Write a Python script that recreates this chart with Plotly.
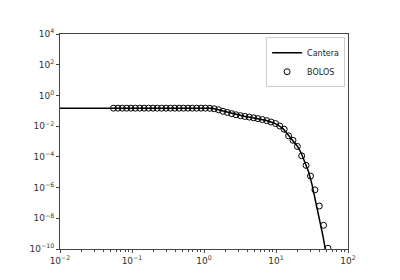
import plotly.graph_objects as go

# Cantera curve
cantera_x = [0.01, 1.0, 1.259, 1.445, 1.660, 1.950, 2.291, 2.692, 3.162, 3.715, 4.365,
             5.129, 6.026, 7.079, 8.318, 9.772, 11.48, 12.59, 14.13, 15.85, 17.78,
             19.95, 22.39, 25.12, 28.18, 31.62, 35.48, 39.81, 44.67, 50.12, 56.23]
cantera_y = [0.148, 0.148, 0.145, 0.132, 0.112, 0.0871, 0.0692, 0.0575, 0.0479, 0.0427,
             0.0380, 0.0339, 0.0295, 0.0245, 0.0195, 0.0145, 0.00933, 0.00661, 0.00347,
             0.00178, 9.3e-4, 4.7e-4, 1.78e-4, 5.0e-5, 1.17e-5, 1.58e-6, 1.41e-7,
             1.0e-8, 7.9e-10, 4.0e-11, 1.6e-12]

# BOLOS points
bolos_x = [0.0553, 0.0637, 0.0733, 0.0842, 0.0968, 0.1114, 0.1282, 0.1476, 0.1695, 0.195,
           0.2244, 0.2582, 0.2972, 0.3412, 0.3926, 0.4519, 0.520, 0.598, 0.687, 0.791,
           0.910, 1.047, 1.205, 1.384, 1.592, 1.832, 2.109, 2.427, 2.786, 3.206,
           3.690, 4.246, 4.887, 5.61, 6.457, 7.43, 8.55, 9.84, 11.30, 13.00,
           14.96, 17.22, 19.82, 22.75, 26.18, 30.13, 34.67, 39.90, 45.81, 52.7]
bolos_y = [0.148, 0.148, 0.148, 0.148, 0.148, 0.148, 0.148, 0.148, 0.148, 0.148,
           0.148, 0.148, 0.148, 0.148, 0.148, 0.148, 0.148, 0.148, 0.148, 0.148,
           0.148, 0.148, 0.145, 0.135, 0.117, 0.093, 0.078, 0.065, 0.055, 0.048,
           0.0427, 0.0389, 0.0347, 0.0309, 0.0269, 0.0229, 0.0186, 0.0148, 0.0102, 0.0063,
           0.00234, 1.2e-3, 4.8e-4, 1.17e-4, 2.8e-5, 5.6e-6, 7.1e-7, 6.3e-8, 3.5e-9, 1.12e-10]

x_ticks = [0.01, 0.1, 1, 10, 100]
x_labels = ["10<sup>−2</sup>", "10<sup>−1</sup>", "10<sup>0</sup>", "10<sup>1</sup>", "10<sup>2</sup>"]
y_ticks = [1e-10, 1e-8, 1e-6, 1e-4, 1e-2, 1, 1e2, 1e4]
y_labels = ["10<sup>−10</sup>", "10<sup>−8</sup>", "10<sup>−6</sup>", "10<sup>−4</sup>",
            "10<sup>−2</sup>", "10<sup>0</sup>", "10<sup>2</sup>", "10<sup>4</sup>"]

fig = go.Figure()
fig.add_trace(go.Scatter(x=cantera_x, y=cantera_y, mode="lines", name="Cantera",
                         line=dict(color="black", width=1.5)))
fig.add_trace(go.Scatter(x=bolos_x, y=bolos_y, mode="markers", name="BOLOS",
                         marker=dict(symbol="circle-open", size=6, color="black",
                                     line=dict(width=1, color="black"))))

axis_common = dict(showgrid=False, zeroline=False, showline=True, mirror=True,
                   linecolor="#444", linewidth=1, ticks="outside", ticklen=3,
                   tickcolor="#444", tickfont=dict(family="DejaVu Sans", size=9, color="#333"))

fig.update_xaxes(type="log", range=[-2, 2], tickmode="array", tickvals=x_ticks,
                 ticktext=x_labels,
                 minor=dict(ticks="outside", ticklen=2, tickcolor="#444", dtick="D1", showgrid=False),
                 **axis_common)
fig.update_yaxes(type="log", range=[-10, 4], tickmode="array", tickvals=y_ticks,
                 ticktext=y_labels, **axis_common)

fig.update_layout(
    width=400, height=280,
    margin=dict(l=60, r=52, t=34, b=31),
    plot_bgcolor="white", paper_bgcolor="white",
    showlegend=True,
    legend=dict(x=0.99, y=0.985, xanchor="right", yanchor="top",
                bgcolor="white", bordercolor="#ccc", borderwidth=1,
                font=dict(family="DejaVu Sans", size=8, color="#222"),
                itemwidth=30, tracegroupgap=0),
)

fig.write_html("out.html")
